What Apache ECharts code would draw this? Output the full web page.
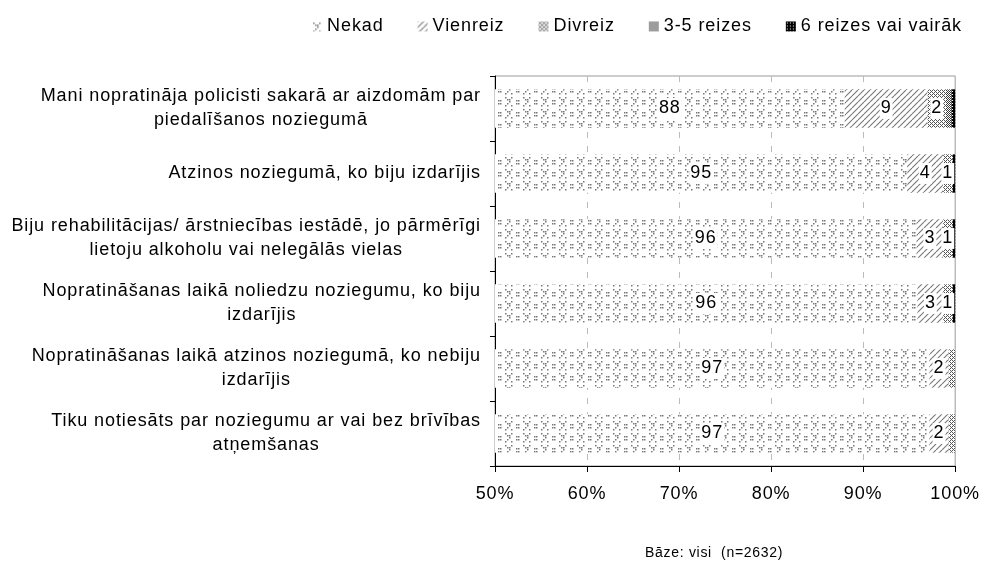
<!DOCTYPE html>
<html>
<head>
<meta charset="utf-8">
<script src="https://cdn.jsdelivr.net/npm/echarts@6/dist/echarts.min.js"></script>
<style>html,body{margin:0;padding:0;background:#fff}#c{width:983px;height:565px}</style>
</head>
<body>
<div id="c"></div>
<script>
const categories = [
  "Mani nopratināja policisti sakarā ar aizdomām par\npiedalīšanos noziegumā",
  "Atzinos noziegumā, ko biju izdarījis",
  "Biju rehabilitācijas/ ārstniecības iestādē, jo pārmērīgi\nlietoju alkoholu vai nelegālās vielas",
  "Nopratināšanas laikā noliedzu noziegumu, ko biju\nizdarījis",
  "Nopratināšanas laikā atzinos noziegumā, ko nebiju\nizdarījis",
  "Tiku notiesāts par noziegumu ar vai bez brīvības\natņemšanas"
];
const seriesNames = ["Nekad", "Vienreiz", "Divreiz", "3-5 reizes", "6 reizes vai vairāk"];
const nekad    = [88.0, 94.8, 95.8, 95.9, 97.2, 97.2];
const vienreiz = [9.0, 3.9, 2.9, 2.8, 2.1, 2.1];
const divreiz  = [2.0, 1.0, 1.0, 1.0, 0.7, 0.7];
const reizes35 = [0.6, 0.0, 0.0, 0.0, 0.0, 0.0];
const reizes6  = [0.4, 0.3, 0.3, 0.3, 0.0, 0.0];
const xTicks = [50, 60, 70, 80, 90, 100];
const footnote = "Bāze: visi  (n=2632)";

// Slightly letter-spaced text rendering (as in the original chart)
(function () {
  const P = CanvasRenderingContext2D.prototype;
  const ratio = 0.05;
  function applySpacing(ctx) {
    const m = /(\d+(?:\.\d+)?)px/.exec(ctx.font || '');
    const size = m ? parseFloat(m[1]) : 12;
    try { ctx.letterSpacing = (size * ratio).toFixed(2) + 'px'; } catch (e) {}
  }
  ['fillText', 'strokeText', 'measureText'].forEach(fn => {
    const orig = P[fn];
    P[fn] = function () { applySpacing(this); return orig.apply(this, arguments); };
  });
})();

function makePattern(w, h, draw) {
  const c = document.createElement('canvas');
  c.width = w; c.height = h;
  const ctx = c.getContext('2d');
  ctx.fillStyle = '#fff';
  ctx.fillRect(0, 0, w, h);
  draw(ctx);
  return { image: c, repeat: 'repeat' };
}
const patNekad = makePattern(18, 12, ctx => {
  ctx.fillStyle = '#777';
  [[1,1],[3,3],[5,5],[1,9],[3,7],[7,9],[7,1],[5,3]].forEach(p => ctx.fillRect(p[0], p[1], 1.5, 1.5));
  [[12,4],[14,4],[12,7],[14,7]].forEach(p => ctx.fillRect(p[0], p[1], 1.5, 1.5));
});
const patVienreiz = makePattern(6, 6, ctx => {
  ctx.strokeStyle = '#777';
  ctx.lineWidth = 1.1;
  for (let k = -6; k <= 12; k += 6) {
    ctx.beginPath(); ctx.moveTo(k, 6); ctx.lineTo(k + 6, 0); ctx.stroke();
  }
});
const patDivreiz = makePattern(4, 4, ctx => {
  ctx.fillStyle = '#555';
  ctx.fillRect(0, 0, 1, 1); ctx.fillRect(1, 1, 1, 1); ctx.fillRect(2, 2, 1, 1); ctx.fillRect(3, 3, 1, 1);
  ctx.fillRect(2, 0, 1, 1); ctx.fillRect(0, 2, 1, 1);
});
const patR35 = makePattern(2, 2, ctx => {
  ctx.fillStyle = '#3a3a3a';
  ctx.fillRect(0, 0, 1, 1); ctx.fillRect(1, 1, 1, 1);
});
const patR6 = makePattern(3, 3, ctx => {
  ctx.fillStyle = '#000';
  ctx.fillRect(0, 0, 3, 3);
  ctx.fillStyle = '#fff';
  ctx.fillRect(1, 1, 1, 1);
});
const patterns = [patNekad, patVienreiz, patDivreiz, patR35, patR6];
const values = [nekad, vienreiz, divreiz, reizes35, reizes6];

const FONT = '"Liberation Sans", Arial, sans-serif';

const series = seriesNames.map((name, i) => ({
  name: name,
  type: 'bar',
  stack: 'total',
  barCategoryGap: '41%',
  itemStyle: { color: patterns[i] },
  emphasis: { disabled: true },
  label: {
    show: true,
    position: 'inside',
    color: '#000',
    fontFamily: FONT,
    fontSize: 18,
    backgroundColor: '#fff',
    padding: [2, 1, 0, 1],
    formatter: p => String(Math.round(p.value))
  },
  data: values[i].map(v => ({ value: v, label: { show: v >= 0.95 } }))
}));

const chart = echarts.init(document.getElementById('c'), null, { renderer: 'canvas' });
chart.setOption({
  animation: false,
  backgroundColor: '#fff',
  textStyle: { fontFamily: FONT },
  title: {
    text: footnote,
    left: 640, top: 541,
    textStyle: { fontFamily: FONT, fontSize: 14, fontWeight: 'normal', color: '#000' }
  },
  legend: {
    data: seriesNames,
    right: 16, top: 12,
    itemWidth: 10, itemHeight: 10,
    itemGap: 34,
    icon: 'rect',
    textStyle: { fontFamily: FONT, fontSize: 18, color: '#000' }
  },
  grid: {
    left: 495, right: 26, top: 76, bottom: 99,
    show: true, borderColor: '#999', borderWidth: 1, backgroundColor: 'transparent'
  },
  xAxis: {
    type: 'value',
    min: xTicks[0], max: xTicks[xTicks.length - 1], interval: 10,
    axisLine: { show: true, lineStyle: { color: '#000', width: 1 } },
    axisTick: { show: true, length: 6, lineStyle: { color: '#000' } },
    axisLabel: { formatter: v => v + '%', fontSize: 18, color: '#000', fontFamily: FONT, margin: 19 },
    splitLine: { show: true, lineStyle: { color: '#bbb', type: [6, 8] } }
  },
  yAxis: {
    type: 'category',
    data: categories,
    inverse: true,
    axisLine: { show: true, lineStyle: { color: '#000', width: 1 } },
    axisTick: { show: true, length: 5, lineStyle: { color: '#000' } },
    axisLabel: {
      margin: 14,
      color: '#000',
      fontFamily: FONT,
      fontSize: 18,
      lineHeight: 24,
      formatter: v => v.split('\n').map(l => '{c|' + l + '}').join('\n'),
      rich: { c: { align: 'center', fontSize: 18, lineHeight: 24, fontFamily: FONT, color: '#000' } }
    }
  },
  series: series
});
</script>
</body>
</html>
